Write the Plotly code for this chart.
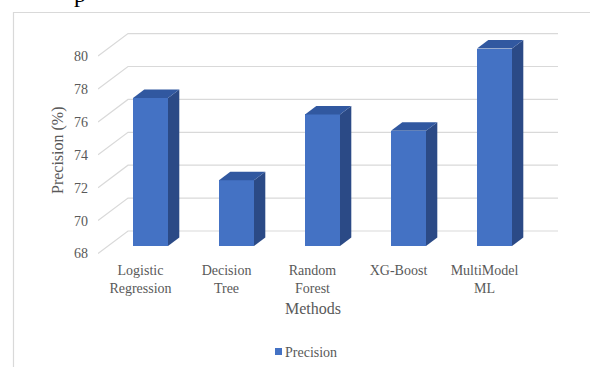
import plotly.graph_objects as go

# ---- data -------------------------------------------------------------
methods = ["Logistic<br>Regression", "Decision<br>Tree", "Random<br>Forest",
           "XG-Boost", "MultiModel<br>ML"]
precision = [77, 72, 76, 75, 80]
y_ticks = [68, 70, 72, 74, 76, 78, 80]
series_name = "Precision"
BASE = 68

# ---- geometry (pixels) ------------------------------------------------
W, H = 590, 367
PL, PR, PT, PB = 98, 559, 20, 258          # plot area edges
PX_PER_CAT = 86.0                           # distance between categories
PX_PER_UNIT = 16.45                         # pixels per precision point
CAT0_PX = 140.5                             # first category on the floor front edge
BASE_PX = 253.5                             # value BASE on the floor front edge

# oblique depth offsets (px): floor front -> bar front, bar depth, floor depth
BAR_SHIFT_PX = (10.0, 7.5)
BAR_DEPTH_PX = (11.3, 8.5)
WALL_DEPTH_PX = (30.0, 22.5)
BAR_WIDTH_PX = 35.0
FLOOR_FRONT_PX = (98.0, 528.0)

def ux(px):
    return px / PX_PER_CAT

def uy(px):
    return px / PX_PER_UNIT

x_range = [(PL - CAT0_PX) / PX_PER_CAT, (PR - CAT0_PX) / PX_PER_CAT]
y_range = [BASE + (BASE_PX - PB) / PX_PER_UNIT, BASE + (BASE_PX - PT) / PX_PER_UNIT]

dxs, dys = ux(BAR_SHIFT_PX[0]), uy(BAR_SHIFT_PX[1])
dxb, dyb = ux(BAR_DEPTH_PX[0]), uy(BAR_DEPTH_PX[1])
dxw, dyw = ux(WALL_DEPTH_PX[0]), uy(WALL_DEPTH_PX[1])
bw = ux(BAR_WIDTH_PX)
floor_x0 = (FLOOR_FRONT_PX[0] - CAT0_PX) / PX_PER_CAT
floor_x1 = (FLOOR_FRONT_PX[1] - CAT0_PX) / PX_PER_CAT

FONT = "Liberation Serif, Times New Roman, serif"
GRID = "#D9D9D9"
TXT = "#595959"
FRONT, TOP, SIDE = "#4472C4", "#3158A0", "#2B4A86"

fig = go.Figure()

# ---- gridlines: diagonal on the left side wall + horizontal on the back wall
for t in y_ticks:
    fig.add_trace(go.Scatter(
        x=[floor_x0, floor_x0 + dxw, floor_x1 + dxw],
        y=[t, t + dyw, t + dyw],
        mode="lines", line=dict(color=GRID, width=1.2),
        hoverinfo="skip", showlegend=False, xaxis="x", yaxis="y"))

# ---- bars: front faces
idx = list(range(len(methods)))
fig.add_trace(go.Bar(
    x=idx, y=[v - BASE for v in precision], base=BASE, width=bw,
    marker=dict(color=FRONT, line=dict(width=0)),
    name=series_name, showlegend=False, xaxis="x2", yaxis="y2",
    hovertemplate="%{customdata}: %{y}<extra></extra>",
    customdata=[m.replace("<br>", " ") for m in methods]))

# ---- bars: side and top faces
for i, v in zip(idx, precision):
    xl, xr = i - bw / 2, i + bw / 2
    fig.add_trace(go.Scatter(
        x=[xr, xr + dxb, xr + dxb, xr, xr],
        y=[BASE, BASE + dyb, v + dyb, v, BASE],
        fill="toself", fillcolor=SIDE, mode="lines", line=dict(width=0, color=SIDE),
        hoverinfo="skip", showlegend=False, xaxis="x2", yaxis="y2"))
    fig.add_trace(go.Scatter(
        x=[xl, xr, xr + dxb, xl + dxb, xl],
        y=[v, v, v + dyb, v + dyb, v],
        fill="toself", fillcolor=TOP, mode="lines", line=dict(width=0, color=TOP),
        hoverinfo="skip", showlegend=False, xaxis="x2", yaxis="y2"))

def paper_x(px):
    return (px - PL) / (PR - PL)

def paper_y(py):
    return (PB - py) / (PB - PT)

annotations = [
    dict(text="Precision (%)", x=paper_x(58), y=paper_y(150), textangle=-90,
         font=dict(family=FONT, size=16, color=TXT)),
    dict(text="Methods", x=paper_x(313), y=paper_y(308),
         font=dict(family=FONT, size=16, color=TXT)),
    dict(text=series_name, x=paper_x(283), y=paper_y(352), xanchor="left",
         font=dict(family=FONT, size=14, color=TXT)),
    dict(text="p", x=paper_x(80), y=paper_y(9), yanchor="bottom",
         font=dict(family=FONT, size=24, color="#000000")),
]
for a in annotations:
    a.update(xref="paper", yref="paper", showarrow=False)
    a.setdefault("xanchor", "center")
    a.setdefault("yanchor", "middle")

shapes = [
    # chart frame
    dict(type="rect", xref="paper", yref="paper",
         x0=paper_x(13.5), x1=paper_x(620), y0=paper_y(400), y1=paper_y(12.5),
         line=dict(color=GRID, width=1.2), fillcolor="rgba(0,0,0,0)", layer="below"),
    # legend key
    dict(type="rect", xref="paper", yref="paper",
         x0=paper_x(275), x1=paper_x(282), y0=paper_y(355), y1=paper_y(348),
         line=dict(width=0), fillcolor=FRONT),
]

fig.update_layout(
    width=W, height=H,
    margin=dict(l=PL, r=W - PR, t=PT, b=H - PB, autoexpand=False),
    paper_bgcolor="white", plot_bgcolor="white",
    showlegend=False, bargap=0,
    font=dict(family=FONT, size=14, color=TXT),
    xaxis=dict(range=x_range, tickmode="array", tickvals=idx, ticktext=methods,
               showgrid=False, zeroline=False, showline=False, ticks="",
               tickfont=dict(family=FONT, size=14, color=TXT),
               ticklabelstandoff=2, fixedrange=True),
    yaxis=dict(range=y_range, tickmode="array", tickvals=y_ticks,
               showgrid=False, zeroline=False, showline=False, ticks="",
               tickfont=dict(family=FONT, size=14, color=TXT),
               ticklabelstandoff=9, fixedrange=True),
    xaxis2=dict(range=[r - dxs for r in x_range], overlaying="x", visible=False,
                fixedrange=True),
    yaxis2=dict(range=[r - dys for r in y_range], overlaying="y", visible=False,
                fixedrange=True),
    annotations=annotations, shapes=shapes,
)

fig.write_html("out.html")
